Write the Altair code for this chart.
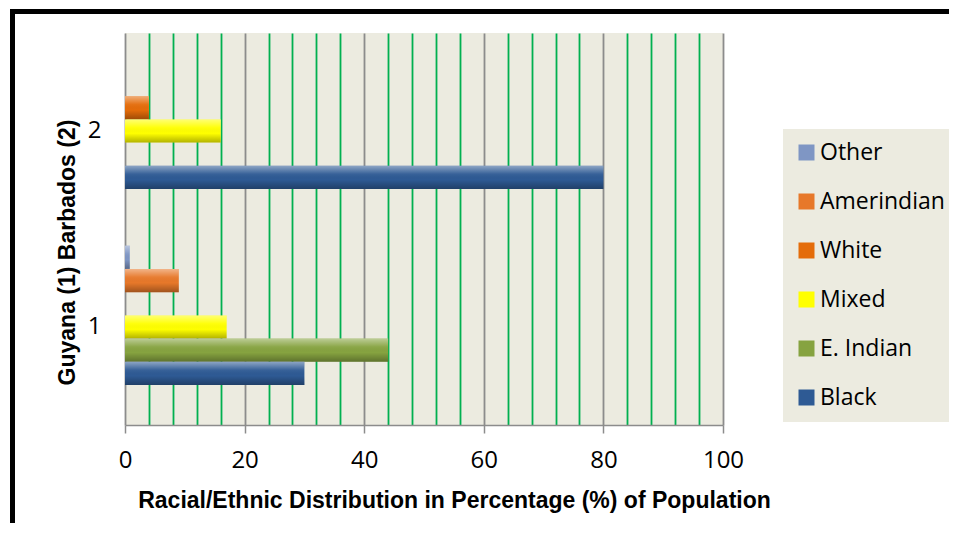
import altair as alt
import pandas as pd

groups = ["1", "2"]
series = ["Other", "Amerindian", "White", "Mixed", "E. Indian", "Black"]
guyana = [0.8, 9, None, 17, 44, 30]
barbados = [None, None, 4, 16, None, 80]
colors = ["#7F96C4", "#E7782A", "#E46C0A", "#FFFF00", "#86A340", "#2E5A94"]
slots = series + [" "]
x_ticks = list(range(0, 101, 4))

rows = []
for g, vals in zip(groups, [guyana, barbados]):
    for s, v in zip(series, vals):
        if v is not None:
            rows.append({"group": g, "series": s, "value": v})
df = pd.DataFrame(rows)

is_major = "datum.value % 20 === 0"

x_enc = alt.X(
    "value:Q",
    scale=alt.Scale(domain=[0, 100], nice=False, zero=True),
    axis=alt.Axis(
        values=x_ticks,
        tickCount=len(x_ticks),
        labelOverlap=False,
        title="Racial/Ethnic Distribution in Percentage (%) of Population",
        titleFont="Liberation Sans",
        titleFontWeight="bold",
        titleFontSize=23,
        titleColor="#000000",
        titleX=329,
        titleY=75,
        titleBaseline="middle",
        titleAlign="center",
        labelExpr=f"{is_major} ? datum.label : ''",
        labelFont="Open Sans",
        labelFontSize=24,
        labelColor="#000000",
        labelPadding=15,
        labelFlush=False,
        tickSize=8,
        tickWidth=1.5,
        tickColor="#8C8C8C",
        tickOpacity={"condition": {"test": is_major, "value": 1}, "value": 0},
        domainColor="#8C8C8C",
        domainWidth=1.5,
        grid=True,
        gridColor={"condition": {"test": is_major, "value": "#8C8C8C"}, "value": "#00B050"},
        gridWidth=1.8,
    ),
)

y_enc = alt.Y(
    "group:N",
    sort=["2", "1"],
    scale=alt.Scale(paddingInner=0.17, paddingOuter=0.085),
    axis=alt.Axis(
        title="Guyana (1) Barbados (2)",
        titleFont="Liberation Sans",
        titleFontWeight="bold",
        titleFontSize=23,
        titleColor="#000000",
        titleAngle=270,
        titleX=-57.5,
        titleY=219,
        titleBaseline="middle",
        titleAlign="center",
        labelAngle=0,
        labelFont="Open Sans",
        labelFontSize=24,
        labelColor="#000000",
        labelPadding=24,
        ticks=False,
        domain=False,
        grid=False,
    ),
)

yoff = alt.YOffset("series:N", scale=alt.Scale(domain=slots, paddingInner=0, paddingOuter=0))

bars = alt.Chart(df).mark_bar(cornerRadius=0).encode(
    x=x_enc,
    y=y_enc,
    yOffset=yoff,
    color=alt.Color(
        "series:N",
        scale=alt.Scale(domain=series, range=colors),
        legend=alt.Legend(
            title=None,
            orient="none",
            legendX=658,
            legendY=96,
            fillColor="#ECEBE0",
            padding=12,
            rowPadding=25,
            labelFont="Open Sans",
            labelFontSize=23,
            labelColor="#000000",
            labelOffset=2,
            symbolType="square",
            symbolSize=256,
            symbolStrokeWidth=0,
            symbolOpacity=1,
        ),
    ),
)

shine = alt.Chart(df).mark_bar(
    color=alt.LinearGradient(
        gradient="linear",
        x1=0, y1=0, x2=0, y2=1,
        stops=[
            alt.GradientStop(offset=0, color="rgba(255,255,255,0.45)"),
            alt.GradientStop(offset=0.35, color="rgba(255,255,255,0.05)"),
            alt.GradientStop(offset=0.6, color="rgba(0,0,0,0.0)"),
            alt.GradientStop(offset=1, color="rgba(0,0,0,0.3)"),
        ],
    )
).encode(x="value:Q", y=alt.Y("group:N", sort=["2", "1"]), yOffset=yoff)

frame_src = pd.DataFrame({"k": [0]})
frame_top = alt.Chart(frame_src).mark_rule(color="#000000", strokeWidth=5).encode(
    x=alt.value(-115), x2=alt.value(840), y=alt.value(-21.5)
)
frame_left = alt.Chart(frame_src).mark_rule(color="#000000", strokeWidth=5).encode(
    x=alt.value(-112.5), y=alt.value(-24), y2=alt.value(500)
)

chart = alt.layer(bars, shine, frame_top, frame_left).properties(
    width=598,
    height=392,
    autosize=alt.AutoSizeParams(type="none"),
    padding={"left": 117, "top": 25, "right": 226, "bottom": 98},
    background="#FFFFFF",
).configure_view(fill="#ECEBE0", stroke=None)

chart.save("out.html", embed_options={"renderer": "svg", "actions": False})
